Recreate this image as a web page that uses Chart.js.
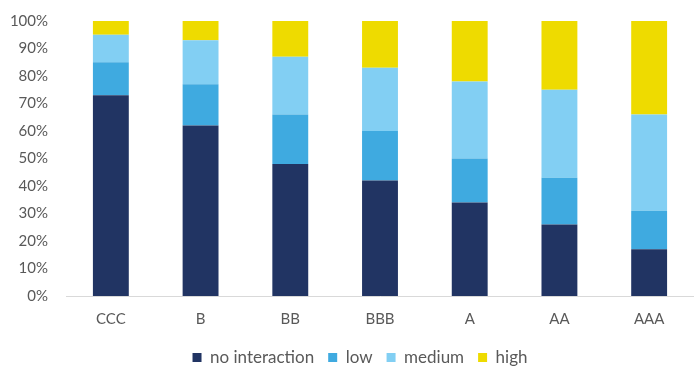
<!DOCTYPE html>
<html>
<head>
<meta charset="utf-8">
<script src="https://cdn.jsdelivr.net/npm/chart.js@4.4.1/dist/chart.umd.min.js"></script>
<style>
  html, body { margin: 0; padding: 0; background: #fff; }
  #wrap { position: relative; width: 694px; height: 380px; }
</style>
</head>
<body>
<div id="wrap"><canvas id="chart"></canvas></div>
<script>
var categories = ["CCC", "B", "BB", "BBB", "A", "AA", "AAA"];
var seriesNames = ["no interaction", "low", "medium", "high"];
var noInteraction = [73, 62, 48, 42, 34, 26, 17];
var low = [12, 15, 18, 18, 16, 17, 14];
var medium = [10, 16, 21, 23, 28, 32, 35];
var high = [5, 7, 13, 17, 22, 25, 34];
var yTicks = [0, 10, 20, 30, 40, 50, 60, 70, 80, 90, 100];

var colors = ["#213463", "#3FAAE0", "#82CFF3", "#EEDB00"];
var values = [noInteraction, low, medium, high];

var datasets = seriesNames.map(function (name, i) {
    return {
        label: name,
        data: values[i],
        backgroundColor: colors[i],
        borderWidth: 0,
        categoryPercentage: 1,
        barPercentage: 0.4
    };
});

var font = "Lato, 'Open Sans', sans-serif";
var grey = "#595959";

// the legend in the original sits a little right of centre
var legendShift = {
    id: "legendShift",
    afterLayout: function (chart) {
        chart.legend.left += 13;
        chart.legend.right += 13;
    }
};

new Chart(document.getElementById("chart"), {
    type: "bar",
    data: { labels: categories, datasets: datasets },
    plugins: [legendShift],
    options: {
        responsive: true,
        maintainAspectRatio: false,
        animation: false,
        layout: { padding: { top: 21, right: 0, left: 0, bottom: 4 } },
        plugins: {
            tooltip: { enabled: false },
            legend: {
                position: "bottom",
                labels: {
                    boxWidth: 9,
                    boxHeight: 9,
                    padding: 14,
                    color: grey,
                    font: { family: font, size: 17 }
                }
            }
        },
        scales: {
            x: {
                stacked: true,
                grid: { display: false, drawTicks: false },
                border: { display: true, color: "#d9d9d9", width: 1 },
                afterFit: function (axis) { axis.height = 39; },
                ticks: {
                    color: grey,
                    padding: 14,
                    font: { family: font, size: 15 }
                }
            },
            y: {
                stacked: true,
                min: 0,
                max: 100,
                afterBuildTicks: function (axis) {
                    axis.ticks = yTicks.map(function (v) { return { value: v }; });
                },
                afterFit: function (axis) {
                    axis.width = 66;
                    axis.paddingTop = 0;
                },
                grid: { display: false, drawTicks: false },
                border: { display: false },
                ticks: {
                    color: grey,
                    padding: 18,
                    font: { family: font, size: 15 },
                    callback: function (v) { return v + "%"; }
                }
            }
        }
    }
});
</script>
</body>
</html>
